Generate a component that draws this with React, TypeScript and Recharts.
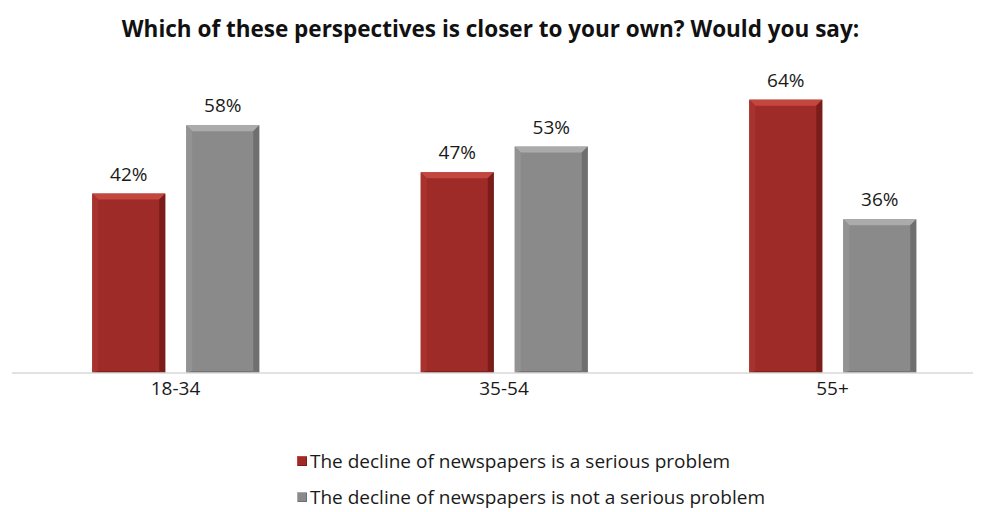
import React from 'react';
import { BarChart, Bar, XAxis, YAxis, LabelList, Legend } from 'recharts';

const categories = ['18-34', '35-54', '55+'];
const seriousValues = [42, 47, 64];
const notSeriousValues = [58, 53, 36];
const seriesNames = [
  'The decline of newspapers is a serious problem',
  'The decline of newspapers is not a serious problem',
];
const title = 'Which of these perspectives is closer to your own? Would you say:';

const data = categories.map((c, i) => ({
  x: i,
  cat: c,
  serious: seriousValues[i],
  notSerious: notSeriousValues[i],
}));

const palettes: Record<string, { body: string; top: string; left: string; right: string; bottom: string }> = {
  serious: { body: '#9E2B27', top: '#C4473F', left: '#A8322D', right: '#7A1D1A', bottom: '#7E201C' },
  notSerious: { body: '#8A8A8A', top: '#ABABAB', left: '#939393', right: '#6F6F6F', bottom: '#737373' },
};

const FONT = '"Open Sans", Lato, sans-serif';

const makeBevel = (key: string) => (props: any) => {
  const { x, y, width: w, height: h } = props;
  if (!h || h <= 0) return null;
  const p = palettes[key];
  const b = 6;
  return (
    <g>
      <rect x={x} y={y} width={w} height={h} fill={p.body} />
      <polygon points={`${x},${y} ${x + w},${y} ${x + w - b},${y + b} ${x + b},${y + b}`} fill={p.top} />
      <polygon points={`${x},${y} ${x + b},${y + b} ${x + b},${y + h - 2} ${x},${y + h}`} fill={p.left} />
      <polygon points={`${x + w},${y} ${x + w - b},${y + b} ${x + w - b},${y + h - 2} ${x + w},${y + h}`} fill={p.right} />
      <polygon points={`${x},${y + h} ${x + b},${y + h - 2} ${x + w - b},${y + h - 2} ${x + w},${y + h}`} fill={p.bottom} />
    </g>
  );
};

const LegendContent = () => (
  <div style={{ fontFamily: FONT, fontSize: 19, color: '#1a1a1a', height: 99, position: 'relative' }}>
    {seriesNames.map((name, i) => {
      const p = palettes[i === 0 ? 'serious' : 'notSerious'];
      return (
        <div
          key={name}
          style={{ position: 'absolute', left: 285, top: i === 0 ? 35 : 71, display: 'flex', alignItems: 'center', whiteSpace: 'nowrap' }}
        >
          <span
            style={{
              display: 'inline-block',
              width: 10,
              height: 10,
              background: p.body,
              boxShadow: `inset 1px 1px 0 ${p.top}, inset -1px -1px 0 ${p.right}`,
              marginRight: 3,
            }}
          />
          <span>{name}</span>
        </div>
      );
    })}
  </div>
);

export default function App() {
  return (
    <div style={{ position: 'relative', width: 973, height: 504 }}>
      <div
        style={{
          position: 'absolute',
          top: 5,
          left: 0,
          width: 965,
          textAlign: 'center',
          fontFamily: FONT,
          fontWeight: 700,
          fontSize: 22.5,
          color: '#111',
        }}
      >
        {title}
      </div>
      <BarChart
        width={973}
        height={504}
        data={data}
        margin={{ top: 66, right: 0, left: 4, bottom: 0 }}
        barSize={73}
        barGap={21}
      >
        <XAxis
          dataKey="x"
          type="number"
          domain={[-0.4977, 2.452]}
          allowDataOverflow
          ticks={[0, 1, 2]}
          tickFormatter={(v: number) => categories[v]}
          axisLine={{ stroke: '#D9D9D9', strokeWidth: 1.5 }}
          tickLine={false}
          height={40}
          tick={{ fill: '#1a1a1a', fontSize: 19, fontFamily: FONT }}
          tickMargin={3}
        />
        <YAxis hide domain={[0, 70]} />
        <Legend verticalAlign="bottom" height={99} content={<LegendContent />} />
        <Bar dataKey="serious" name={seriesNames[0]} fill={palettes.serious.body} shape={makeBevel('serious')} isAnimationActive={false}>
          <LabelList dataKey="serious" position="top" offset={13} formatter={(v: number) => `${v}%`} style={{ fill: '#1a1a1a', fontSize: 19, fontFamily: FONT }} />
        </Bar>
        <Bar dataKey="notSerious" name={seriesNames[1]} fill={palettes.notSerious.body} shape={makeBevel('notSerious')} isAnimationActive={false}>
          <LabelList dataKey="notSerious" position="top" offset={13} formatter={(v: number) => `${v}%`} style={{ fill: '#1a1a1a', fontSize: 19, fontFamily: FONT }} />
        </Bar>
      </BarChart>
    </div>
  );
}
